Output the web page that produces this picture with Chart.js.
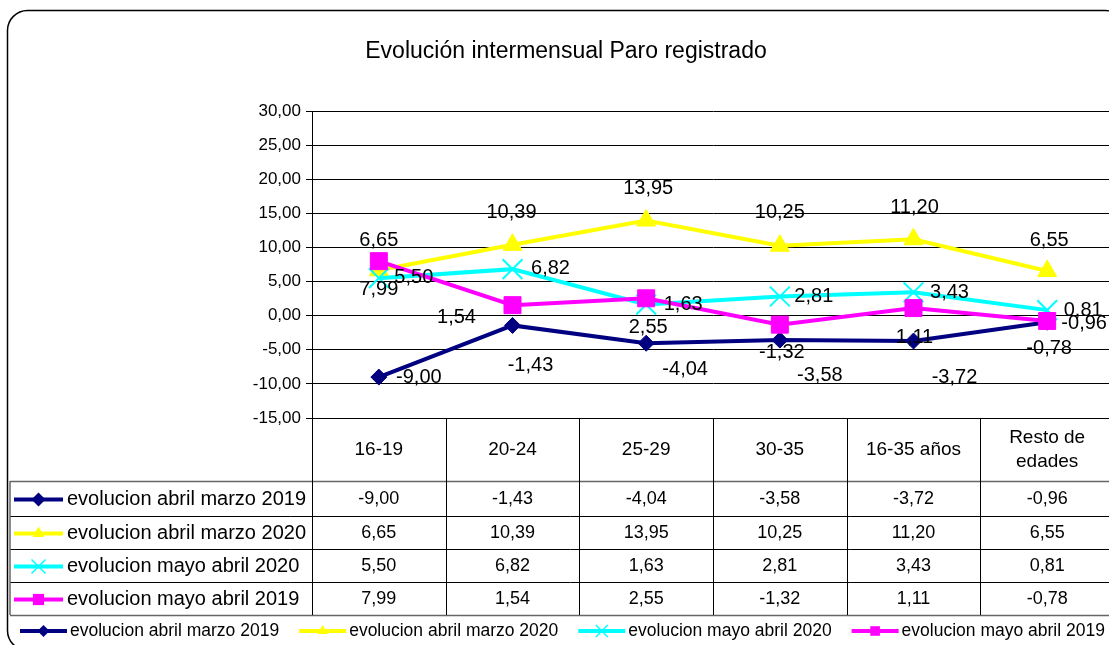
<!DOCTYPE html>
<html>
<head>
<meta charset="utf-8">
<script src="https://cdn.jsdelivr.net/npm/chart.js@4/dist/chart.umd.min.js"></script>
<style>
  html, body { margin: 0; padding: 0; background: #fff; overflow: hidden; }
  #wrap { width: 1109px; height: 645px; overflow: hidden; }
</style>
</head>
<body>
<div id="wrap"><canvas id="chart" width="1130" height="660"></canvas></div>
<script>
// categories and series values
const categories = ['16-19', '20-24', '25-29', '30-35', '16-35 años', ['Resto de', 'edades']];
const seriesNames = [
  'evolucion abril marzo 2019',
  'evolucion abril marzo 2020',
  'evolucion mayo abril 2020',
  'evolucion mayo abril 2019'
];
const abrilMarzo2019 = [-9.00, -1.43, -4.04, -3.58, -3.72, -0.96];
const abrilMarzo2020 = [6.65, 10.39, 13.95, 10.25, 11.20, 6.55];
const mayoAbril2020 = [5.50, 6.82, 1.63, 2.81, 3.43, 0.81];
const mayoAbril2019 = [7.99, 1.54, 2.55, -1.32, 1.11, -0.78];
const yMin = -15, yMax = 30, yStep = 5;

const FONT = "'Liberation Sans', Arial, sans-serif";
const fmt = v => v.toFixed(2).replace('.', ',');

// series look: colour, marker, marker size, data label offsets [dx, dy]
const styles = [
  { color: '#000080', point: 'rectRot', radius: 8, pbw: 1, order: 3,
    offsets: [[40, 0], [18, 40], [39, 26], [40, 35], [41, 36], [37, 1]] },
  { color: '#FFFF00', point: 'triangle', radius: 11, pbw: 1, order: 2,
    offsets: [[0, -30], [-1, -32], [2, -32], [0, -33], [1, -32], [2, -30]] },
  { color: '#00FFFF', point: 'crossRot', radius: 14, pbw: 2, order: 1,
    offsets: [[35, -1], [38, -1], [37, 0], [34, 0], [36, 0], [36, 0]] },
  { color: '#FF00FF', point: 'rect', radius: 12, pbw: 1, order: 0,
    offsets: [[0, 28], [-56, 12], [2, 29], [2, 28], [1, 29], [2, 27]] }
];
const seriesData = [abrilMarzo2019, abrilMarzo2020, mayoAbril2020, mayoAbril2019];

// small marker for legend keys
function drawMarker(ctx, style, x, y, r) {
  ctx.save();
  ctx.fillStyle = style.color;
  ctx.strokeStyle = style.color;
  ctx.beginPath();
  if (style.point === 'rectRot') {
    ctx.moveTo(x - r, y); ctx.lineTo(x, y - r); ctx.lineTo(x + r, y); ctx.lineTo(x, y + r);
    ctx.closePath(); ctx.fill();
  } else if (style.point === 'triangle') {
    ctx.moveTo(x, y - r); ctx.lineTo(x + r * 0.87, y + r * 0.5); ctx.lineTo(x - r * 0.87, y + r * 0.5);
    ctx.closePath(); ctx.fill();
  } else if (style.point === 'rect') {
    ctx.rect(x - r * 0.8, y - r * 0.8, r * 1.6, r * 1.6); ctx.fill();
  } else {
    ctx.lineWidth = 1.5;
    ctx.moveTo(x - r, y - r); ctx.lineTo(x + r, y + r);
    ctx.moveTo(x + r, y - r); ctx.lineTo(x - r, y + r);
    ctx.stroke();
  }
  ctx.restore();
}

function drawKey(ctx, style, x0, x1, y, r) {
  ctx.save();
  ctx.strokeStyle = style.color;
  ctx.lineWidth = 4;
  ctx.beginPath(); ctx.moveTo(x0, y); ctx.lineTo(x1, y); ctx.stroke();
  ctx.restore();
  drawMarker(ctx, style, (x0 + x1) / 2, y, r);
}

const decorations = {
  id: 'decorations',
  beforeDraw(chart) {
    const ctx = chart.ctx;
    ctx.save();
    ctx.fillStyle = '#fff';
    ctx.fillRect(0, 0, chart.width, chart.height);
    // rounded outer frame
    ctx.strokeStyle = '#000';
    ctx.lineWidth = 1.5;
    ctx.beginPath();
    ctx.roundRect(7.5, 10.5, 1118, 640, 20);
    ctx.stroke();
    // title
    ctx.fillStyle = '#000';
    ctx.font = '23px ' + FONT;
    ctx.textAlign = 'center';
    ctx.textBaseline = 'alphabetic';
    ctx.fillText('Evolución intermensual Paro registrado', 566, 58);
    ctx.restore();
  },
  afterDatasetsDraw(chart) {
    const ctx = chart.ctx;
    ctx.save();
    ctx.fillStyle = '#000';
    ctx.font = '20px ' + FONT;
    ctx.textAlign = 'center';
    ctx.textBaseline = 'middle';
    chart.data.datasets.forEach((ds, di) => {
      const meta = chart.getDatasetMeta(di);
      meta.data.forEach((pt, i) => {
        const [dx, dy] = styles[di].offsets[i];
        ctx.fillText(fmt(ds.data[i]), pt.x + dx, pt.y + dy);
      });
    });
    ctx.restore();
  },
  afterDraw(chart) {
    const ctx = chart.ctx;
    const area = chart.chartArea;
    const xs = chart.scales.x;
    const colW = (area.right - area.left) / categories.length;
    const headTop = area.bottom;
    const rows = [481, 516, 549, 582, 615];
    const tableLeft = 10;

    ctx.save();
    // horizontal rules
    rows.forEach((y, i) => {
      const edge = i === 0 || i === rows.length - 1;
      ctx.strokeStyle = edge ? '#666' : '#000';
      ctx.lineWidth = edge ? 1.5 : 1;
      ctx.beginPath(); ctx.moveTo(tableLeft, y + 0.5); ctx.lineTo(area.right + 20, y + 0.5); ctx.stroke();
    });
    // vertical rules
    ctx.strokeStyle = '#000';
    ctx.lineWidth = 1;
    for (let i = 0; i <= categories.length; i++) {
      const x = Math.round(area.left + i * colW) + 0.5;
      ctx.beginPath(); ctx.moveTo(x, headTop); ctx.lineTo(x, rows[rows.length - 1]); ctx.stroke();
    }
    ctx.strokeStyle = '#666';
    ctx.lineWidth = 1.5;
    ctx.beginPath(); ctx.moveTo(tableLeft, rows[0]); ctx.lineTo(tableLeft, rows[rows.length - 1]); ctx.stroke();

    // header labels
    ctx.fillStyle = '#000';
    ctx.font = '19px ' + FONT;
    ctx.textAlign = 'center';
    ctx.textBaseline = 'middle';
    categories.forEach((c, i) => {
      const cx = xs.getPixelForValue(i);
      const lines = Array.isArray(c) ? c : [c];
      const midY = (headTop + rows[0]) / 2;
      lines.forEach((ln, k) => {
        ctx.fillText(ln, cx, midY + (k - (lines.length - 1) / 2) * 24);
      });
    });

    // data rows
    seriesData.forEach((vals, si) => {
      const cy = (rows[si] + rows[si + 1]) / 2 + 1;
      drawKey(ctx, styles[si], 14, 63, cy, 7);
      ctx.fillStyle = '#000';
      ctx.font = '20px ' + FONT;
      ctx.textAlign = 'left';
      ctx.fillText(seriesNames[si], 67, cy);
      ctx.font = '18px ' + FONT;
      ctx.textAlign = 'center';
      vals.forEach((v, i) => ctx.fillText(fmt(v), xs.getPixelForValue(i), cy));
    });

    // bottom legend
    let lx = 20;
    const ly = 631;
    ctx.font = '17.5px ' + FONT;
    seriesNames.forEach((name, si) => {
      drawKey(ctx, styles[si], lx, lx + 47, ly, 6);
      ctx.fillStyle = '#000';
      ctx.textAlign = 'left';
      ctx.fillText(name, lx + 50, ly);
      lx += 50 + ctx.measureText(name).width + 20;
    });
    ctx.restore();
  }
};

new Chart(document.getElementById('chart'), {
  type: 'line',
  data: {
    labels: categories,
    datasets: seriesData.map((d, i) => ({
      label: seriesNames[i],
      data: d,
      borderColor: styles[i].color,
      backgroundColor: styles[i].color,
      borderWidth: 4,
      tension: 0,
      order: styles[i].order,
      pointStyle: styles[i].point,
      pointRadius: styles[i].radius,
      pointBorderWidth: styles[i].pbw,
      pointBackgroundColor: styles[i].color,
      pointBorderColor: styles[i].color
    }))
  },
  options: {
    responsive: false,
    animation: false,
    events: [],
    layout: { padding: { left: 0, top: 111, right: 14, bottom: 242 } },
    plugins: { legend: { display: false }, tooltip: { enabled: false } },
    scales: {
      x: { type: 'category', offset: true, display: false },
      y: {
        min: yMin,
        max: yMax,
        afterFit(scale) { scale.width = 312; },
        ticks: { stepSize: yStep, callback: v => fmt(v), color: '#000', padding: 5,
                 font: { size: 17, family: FONT } },
        grid: { color: '#000', lineWidth: 1, tickLength: 6, tickColor: '#000' },
        border: { color: '#000', width: 1 }
      }
    }
  },
  plugins: [decorations]
});
</script>
</body>
</html>
